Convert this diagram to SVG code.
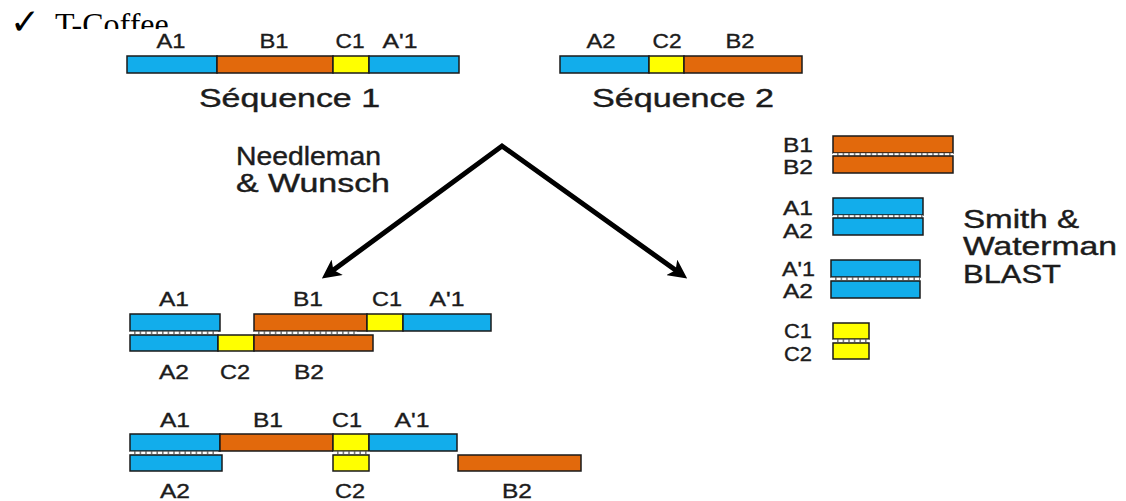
<svg xmlns="http://www.w3.org/2000/svg" width="1126" height="501" viewBox="0 0 1126 501">
  <style>
    .lbl { font-family: "Liberation Sans", Arial, sans-serif; font-size: 20px; fill: #1c1c1c; stroke: #1c1c1c; stroke-width: 0.35; text-anchor: middle; }
    .lbl-l { font-family: "Liberation Sans", Arial, sans-serif; font-size: 20px; fill: #1c1c1c; stroke: #1c1c1c; stroke-width: 0.35; }
    .big { font-family: "Liberation Sans", Arial, sans-serif; font-size: 25px; fill: #1c1c1c; stroke: #1c1c1c; stroke-width: 0.4; }
    .bar { stroke: #1a1a1a; stroke-width: 1.5; }
    .blue { fill: #12ADEB; }
    .orange { fill: #E2690C; }
    .yellow { fill: #FFFF00; }
    .match-base { stroke: #7a7a7a; stroke-width: 2.5; }
    .match-dash { stroke: #ffffff; stroke-width: 2.5; stroke-dasharray: 4 1.6; }
    .conn { fill: none; stroke: #000; stroke-width: 5; stroke-linejoin: miter; }
  </style>
  <defs>
    <marker id="head" viewBox="0 0 10 10" refX="6" refY="5" markerWidth="3.8" markerHeight="3.8" markerUnits="strokeWidth" orient="auto-start-reverse">
      <path d="M0,0 L10,5 L0,10 L2.5,5 z" fill="#000"/>
    </marker>
  </defs>

  <rect width="1126" height="501" fill="#ffffff"/>

  <!-- bullet title, partly covered by the figure below -->
  <g id="title">
    <text x="10" y="34" font-family="DejaVu Sans, sans-serif" font-size="36" fill="#000">✓</text>
    <text x="55" y="35" font-family="Liberation Serif, 'Times New Roman', serif" font-size="32" fill="#000">T-Coffee</text>
    <rect x="42" y="29" width="1084" height="10" fill="#ffffff"/>
  </g>

  <!-- Sequence 1 -->
  <g id="seq1">
    <text class="lbl" x="171" y="48" textLength="29" lengthAdjust="spacingAndGlyphs">A1</text>
    <text class="lbl" x="274" y="48" textLength="29" lengthAdjust="spacingAndGlyphs">B1</text>
    <text class="lbl" x="350" y="48" textLength="29" lengthAdjust="spacingAndGlyphs">C1</text>
    <text class="lbl" x="400" y="48" textLength="35" lengthAdjust="spacingAndGlyphs">A'1</text>
    <rect class="bar blue" x="127" y="56" width="90" height="17"/>
    <rect class="bar orange" x="217" y="56" width="116" height="17"/>
    <rect class="bar yellow" x="333" y="56" width="36" height="17"/>
    <rect class="bar blue" x="369" y="56" width="90" height="17"/>
    <text class="big" x="199" y="107" textLength="181" lengthAdjust="spacingAndGlyphs">Séquence 1</text>
  </g>

  <!-- Sequence 2 -->
  <g id="seq2">
    <text class="lbl" x="601" y="48" textLength="29" lengthAdjust="spacingAndGlyphs">A2</text>
    <text class="lbl" x="667" y="48" textLength="29" lengthAdjust="spacingAndGlyphs">C2</text>
    <text class="lbl" x="740" y="48" textLength="29" lengthAdjust="spacingAndGlyphs">B2</text>
    <rect class="bar blue" x="560" y="56" width="89" height="17"/>
    <rect class="bar yellow" x="649" y="56" width="35" height="17"/>
    <rect class="bar orange" x="684" y="56" width="118" height="17"/>
    <text class="big" x="592" y="107" textLength="182" lengthAdjust="spacingAndGlyphs">Séquence 2</text>
  </g>

  <!-- method labels -->
  <g id="nw-label">
    <text class="big" x="236" y="165" font-size="24" textLength="145" lengthAdjust="spacingAndGlyphs">Needleman</text>
    <text class="big" x="236" y="192" font-size="24" textLength="154" lengthAdjust="spacingAndGlyphs">&amp; Wunsch</text>
  </g>

  <g id="sw-label">
    <text class="big" x="963" y="228" textLength="116" lengthAdjust="spacingAndGlyphs">Smith &amp;</text>
    <text class="big" x="963" y="255" textLength="154" lengthAdjust="spacingAndGlyphs">Waterman</text>
    <text class="big" x="963" y="283" textLength="98" lengthAdjust="spacingAndGlyphs">BLAST</text>
  </g>

  <!-- connectors -->
  <g id="connectors">
    <polyline class="conn" points="328,274 502,146 681,274" marker-start="url(#head)" marker-end="url(#head)"/>
  </g>

  <!-- global alignment (Needleman & Wunsch) -->
  <g id="nw-alignment">
    <text class="lbl" x="174" y="306" textLength="30" lengthAdjust="spacingAndGlyphs">A1</text>
    <text class="lbl" x="308" y="306" textLength="30" lengthAdjust="spacingAndGlyphs">B1</text>
    <text class="lbl" x="387" y="306" textLength="30" lengthAdjust="spacingAndGlyphs">C1</text>
    <text class="lbl" x="447" y="306" textLength="35" lengthAdjust="spacingAndGlyphs">A'1</text>
    <rect class="bar blue" x="130" y="314" width="90" height="17"/>
    <rect class="bar orange" x="254" y="314" width="113" height="17"/>
    <rect class="bar yellow" x="367" y="314" width="36" height="17"/>
    <rect class="bar blue" x="403" y="314" width="88" height="17"/>
    <line class="match-base" x1="130" y1="333" x2="218" y2="333"/>
    <line class="match-dash" x1="130" y1="333" x2="218" y2="333"/>
    <line class="match-base" x1="254" y1="333" x2="357" y2="333"/>
    <line class="match-dash" x1="254" y1="333" x2="357" y2="333"/>
    <rect class="bar blue" x="130" y="335" width="88" height="16"/>
    <rect class="bar yellow" x="218" y="335" width="36" height="16"/>
    <rect class="bar orange" x="254" y="335" width="119" height="16"/>
    <text class="lbl" x="174" y="379" textLength="30" lengthAdjust="spacingAndGlyphs">A2</text>
    <text class="lbl" x="235" y="379" textLength="30" lengthAdjust="spacingAndGlyphs">C2</text>
    <text class="lbl" x="309" y="379" textLength="30" lengthAdjust="spacingAndGlyphs">B2</text>
  </g>

  <!-- combined alignment (T-Coffee) -->
  <g id="tcoffee-alignment">
    <text class="lbl" x="175" y="427" textLength="30" lengthAdjust="spacingAndGlyphs">A1</text>
    <text class="lbl" x="268" y="427" textLength="30" lengthAdjust="spacingAndGlyphs">B1</text>
    <text class="lbl" x="347" y="427" textLength="30" lengthAdjust="spacingAndGlyphs">C1</text>
    <text class="lbl" x="412" y="427" textLength="35" lengthAdjust="spacingAndGlyphs">A'1</text>
    <rect class="bar blue" x="130" y="434" width="90" height="17"/>
    <rect class="bar orange" x="220" y="434" width="113" height="17"/>
    <rect class="bar yellow" x="333" y="434" width="36" height="17"/>
    <rect class="bar blue" x="369" y="434" width="88" height="17"/>
    <line class="match-base" x1="130" y1="453" x2="218" y2="453"/>
    <line class="match-dash" x1="130" y1="453" x2="218" y2="453"/>
    <line class="match-base" x1="333" y1="453" x2="370" y2="453"/>
    <line class="match-dash" x1="333" y1="453" x2="370" y2="453"/>
    <rect class="bar blue" x="130" y="455" width="92" height="16"/>
    <rect class="bar yellow" x="333" y="455" width="36" height="16"/>
    <rect class="bar orange" x="458" y="455" width="123" height="16"/>
    <text class="lbl" x="175" y="498" textLength="30" lengthAdjust="spacingAndGlyphs">A2</text>
    <text class="lbl" x="350" y="498" textLength="30" lengthAdjust="spacingAndGlyphs">C2</text>
    <text class="lbl" x="517" y="498" textLength="30" lengthAdjust="spacingAndGlyphs">B2</text>
  </g>

  <!-- local alignments (Smith & Waterman / BLAST) -->
  <g id="pair-b1-b2">
    <text class="lbl-l" x="783" y="152" textLength="30" lengthAdjust="spacingAndGlyphs">B1</text>
    <text class="lbl-l" x="783" y="174" textLength="30" lengthAdjust="spacingAndGlyphs">B2</text>
    <rect class="bar orange" x="833" y="136" width="120" height="17"/>
    <line class="match-base" x1="833" y1="154.5" x2="953" y2="154.5"/>
    <line class="match-dash" x1="833" y1="154.5" x2="953" y2="154.5"/>
    <rect class="bar orange" x="833" y="156" width="120" height="17"/>
  </g>
  <g id="pair-a1-a2">
    <text class="lbl-l" x="783" y="215" textLength="30" lengthAdjust="spacingAndGlyphs">A1</text>
    <text class="lbl-l" x="783" y="238" textLength="30" lengthAdjust="spacingAndGlyphs">A2</text>
    <rect class="bar blue" x="833" y="198" width="90" height="17"/>
    <line class="match-base" x1="833" y1="216.5" x2="923" y2="216.5"/>
    <line class="match-dash" x1="833" y1="216.5" x2="923" y2="216.5"/>
    <rect class="bar blue" x="833" y="218" width="90" height="17"/>
  </g>
  <g id="pair-a1p-a2">
    <text class="lbl-l" x="782" y="276" textLength="33" lengthAdjust="spacingAndGlyphs">A'1</text>
    <text class="lbl-l" x="783" y="298" textLength="30" lengthAdjust="spacingAndGlyphs">A2</text>
    <rect class="bar blue" x="831" y="260" width="89" height="17"/>
    <line class="match-base" x1="831" y1="279" x2="920" y2="279"/>
    <line class="match-dash" x1="831" y1="279" x2="920" y2="279"/>
    <rect class="bar blue" x="831" y="281" width="89" height="17"/>
  </g>
  <g id="pair-c1-c2">
    <text class="lbl-l" x="784" y="338" textLength="28" lengthAdjust="spacingAndGlyphs">C1</text>
    <text class="lbl-l" x="784" y="361" textLength="28" lengthAdjust="spacingAndGlyphs">C2</text>
    <rect class="bar yellow" x="833" y="323" width="36" height="16"/>
    <line class="match-base" x1="833" y1="341" x2="869" y2="341"/>
    <line class="match-dash" x1="833" y1="341" x2="869" y2="341"/>
    <rect class="bar yellow" x="833" y="343" width="36" height="16"/>
  </g>
</svg>
